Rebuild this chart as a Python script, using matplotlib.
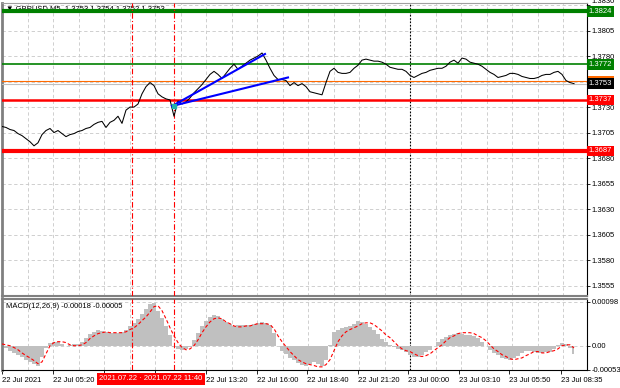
import numpy as np
import matplotlib.pyplot as plt
from matplotlib.patches import Rectangle

plt.rcParams['font.family'] = ['Liberation Sans', 'DejaVu Sans']
plt.rcParams['font.size'] = 5.5

# GBPUSD M5 close (one sample per ~4 px)
close = [
    1.3711, 1.3710, 1.3708, 1.3707, 1.3704, 1.3702, 1.3699, 1.3696, 1.3692, 1.3695,
    1.3703, 1.3707, 1.3709, 1.3705, 1.3707, 1.3704, 1.3701, 1.3703, 1.3704, 1.3706,
    1.3707, 1.3709, 1.3710, 1.3713, 1.3715, 1.3716, 1.3710, 1.3715, 1.3717, 1.3721,
    1.3714, 1.3727, 1.3730, 1.3730, 1.3733, 1.3743, 1.3750, 1.3754, 1.3751, 1.3743,
    1.3740, 1.3738, 1.3737, 1.3721, 1.3736, 1.3733, 1.3735, 1.3739, 1.3744, 1.3748,
    1.3752, 1.3757, 1.3762, 1.3765, 1.3762, 1.3758, 1.3763, 1.3768, 1.3772, 1.3767,
    1.3770, 1.3773, 1.3776, 1.3778, 1.3780, 1.3783, 1.3776, 1.3768, 1.3761, 1.3757,
    1.3757, 1.3756, 1.3751, 1.3754, 1.3751, 1.3753, 1.3750, 1.3745, 1.3744, 1.3743,
    1.3742, 1.3754, 1.3765, 1.3768, 1.3764, 1.3763, 1.3763, 1.3764, 1.3768, 1.3771,
    1.3776, 1.3777, 1.3776, 1.3775, 1.3775, 1.3774, 1.3772, 1.3769, 1.3768, 1.3767,
    1.3767, 1.3765, 1.3761, 1.3759, 1.3761, 1.3763, 1.3764, 1.3766, 1.3767, 1.3768,
    1.3768, 1.3770, 1.3774, 1.3776, 1.3773, 1.3778, 1.3777, 1.3774, 1.3773, 1.3772,
    1.3770, 1.3767, 1.3764, 1.3762, 1.3759, 1.3760, 1.3761, 1.3763, 1.3763, 1.3762,
    1.3760, 1.3759, 1.3758, 1.3758, 1.3759, 1.3761, 1.3762, 1.3762, 1.3764, 1.3765,
    1.3762, 1.3756, 1.3754, 1.3753,
]

# MACD(12,26,9) main (histogram) and signal, in points (1e-5)
macd_hist_pts = [
    0, -4, -11, -16, -20, -24, -31, -36, -40, -44,
    -24, -4, 7, 9, 9, 4, 0, 2, 4, 4,
    9, 18, 27, 31, 36, 33, 31, 29, 29, 29,
    31, 36, 44, 51, 60, 71, 82, 93, 95, 78,
    62, 44, 24, -2, -7, -9, -7, -2, 13, 29,
    44, 56, 64, 69, 67, 60, 53, 49, 44, 47,
    47, 47, 47, 49, 51, 53, 51, 47, 29, 0,
    -11, -18, -27, -31, -38, -42, -44, -40, -36, -40,
    -44, -31, 2, 31, 36, 40, 42, 44, 49, 56,
    53, 49, 42, 36, 27, 16, 9, 2, -2, -7,
    -9, -13, -20, -24, -24, -20, -13, -9, 0, 9,
    16, 20, 24, 27, 29, 27, 24, 24, 22, 18,
    9, 0, -9, -16, -20, -27, -29, -31, -27, -22,
    -16, -11, -11, -13, -16, -16, -13, -13, -7, 2,
    7, 4, -4, -18,
]
macd_signal_pts = [
    4, 2, 0, -4, -9, -16, -22, -27, -33, -40,
    -36, -18, 0, 7, 9, 9, 7, 2, 0, 0,
    2, 7, 16, 22, 27, 29, 31, 29, 29, 29,
    29, 31, 36, 40, 47, 56, 64, 75, 87, 89,
    78, 60, 40, 22, 7, -4, -9, -7, 0, 13,
    29, 42, 53, 60, 62, 60, 53, 49, 44, 42,
    42, 44, 44, 47, 49, 49, 49, 47, 38, 22,
    9, -2, -13, -22, -31, -36, -40, -42, -44, -47,
    -47, -42, -31, -11, 9, 22, 31, 36, 40, 44,
    49, 51, 51, 47, 40, 33, 24, 18, 9, 0,
    -7, -11, -13, -18, -22, -24, -22, -18, -11, -4,
    2, 11, 18, 22, 27, 29, 29, 29, 27, 22,
    18, 11, 2, -7, -13, -20, -24, -29, -31, -29,
    -27, -22, -18, -13, -13, -16, -16, -13, -11, -7,
    0, 2, 2, -5,
]

price_ticks = [1.3830, 1.3805, 1.3780, 1.3755, 1.3730, 1.3705, 1.3680,
               1.3655, 1.3630, 1.3605, 1.3580, 1.3555]
# 1.3755 is covered by the bid box on the original, so its label stays blank
price_tick_labels = ['1.3830', '1.3805', '1.3780', '', '1.3730', '1.3705', '1.3680',
                     '1.3655', '1.3630', '1.3605', '1.3580', '1.3555']
macd_ticks = [0.00098, 0.0, -0.00053]
macd_tick_labels = ['0.00098', '0.00', '-0.00053']

# time axis: two labels sit under the red vertical-line box, so they stay blank
time_pos = [0, 12.75, 25.5, 38.25, 51, 63.75, 76.25, 89, 101.5, 114.25, 126.75, 139.75]
time_labels = ['22 Jul 2021', '22 Jul 05:20', '', '',
               '22 Jul 13:20', '22 Jul 16:00', '22 Jul 18:40', '22 Jul 21:20',
               '23 Jul 00:00', '23 Jul 03:10', '23 Jul 05:50', '23 Jul 08:35']

# horizontal levels: price, line colour, width, label box colour
levels = [
    (1.3824, '#008000', 3.0, '#008000'),
    (1.3772, '#008000', 1.2, '#008000'),
    (1.3753, '#c0c0c0', 0.8, 'black'),
    (1.3737, '#ff0000', 1.8, '#ff0000'),
    (1.3687, '#ff0000', 3.0, '#ff0000'),
]
ask_level = 1.3756

# trend lines drawn on the chart (bar index, price)
trend_lines = [
    ((42.5, 1.3731), (65.75, 1.3782)),
    ((42.5, 1.3731), (71.5, 1.3759)),
]
vlines_red = [32.5, 43.0]
vline_red_label = '2021.07.22 \u00b7 2021.07.22 11:40'
day_break = 102.0

W, H = 620, 388
fig = plt.figure(figsize=(W / 100, H / 100), dpi=100)


def px_axes(x0, y0, x1, y1):
    return fig.add_axes([x0 / W, 1 - y1 / H, (x1 - x0) / W, (y1 - y0) / H])


ax = px_axes(2, 3, 587, 296)
ax2 = px_axes(2, 299, 587, 370)
x = np.arange(len(close))
xmax = 146.25
grid_x = np.arange(6.375, xmax, 6.375)

for a in (ax, ax2):
    a.set_xlim(0, xmax)
    for gx in grid_x:
        a.axvline(gx, color='#c8c8c8', lw=0.6, ls=(0, (4, 3)), zorder=0)
    for vx in vlines_red:
        a.axvline(vx, color='red', lw=0.8, ls=(0, (5, 2, 1, 2)), zorder=4)
    a.axvline(day_break, color='black', lw=0.8, ls=(0, (1.5, 1.5)), zorder=1)
    a.yaxis.tick_right()
    a.tick_params(axis='y', length=2, pad=1.5, labelsize=5.5, width=0.6)
    a.spines['left'].set_color('#808080')
    a.spines['left'].set_linewidth(2)
    a.spines['right'].set_linewidth(0.8)

# ---- price panel ----
ax.set_ylim(1.35448, 1.38320)
ax.set_yticks(price_ticks)
ax.set_yticklabels(price_tick_labels)
ax.get_yticklabels()[0].set_va('bottom')  # top label sits just above the 1.3824 box
ax.set_xticks([])
for p in price_ticks:
    ax.axhline(p, color='#c8c8c8', lw=0.6, ls=(0, (4, 3)), zorder=0)
ax.spines['top'].set_color('#a0a0a0')
ax.spines['bottom'].set_color('#808080')
ax.spines['bottom'].set_linewidth(1.5)

ax.text(0.006, 0.982, '\u25bc GBPUSD,M5  1.3753 1.3754 1.3752 1.3753',
        transform=ax.transAxes, fontsize=5.5, va='center', ha='left', zorder=1,
        family=['Liberation Sans', 'DejaVu Sans'])

# ask line with its label box peeking out above the bid box
ax.axhline(ask_level, color='#ff6a00', lw=0.8, zorder=3)
ax.add_patch(Rectangle((1.002, ask_level - 0.0002), 0.044, 0.0006,
                       transform=ax.get_yaxis_transform(), fc='#ff6a00', ec='none',
                       clip_on=False, zorder=5))

for price, col, lw, box in levels:
    ax.axhline(price, color=col, lw=lw, zorder=3)
    ax.text(1.003, price, f'{price:.4f}', transform=ax.get_yaxis_transform(),
            color='white', fontsize=5.5, ha='left', va='center', clip_on=False,
            zorder=6, bbox=dict(boxstyle='square,pad=0.25', fc=box, ec='none'))

ax.plot(x, close, color='black', lw=0.75, zorder=4)

for (x0, y0), (x1, y1) in trend_lines:
    ax.plot([x0, x1], [y0, y1], color='#0000ff', lw=1.5, zorder=5)
ax.plot([trend_lines[0][0][0] + 0.6], [trend_lines[0][0][1] - 0.00003], 's',
        color='#20b2aa', ms=2.5, zorder=6)

# ---- MACD panel ----
hist = np.array(macd_hist_pts) * 1e-5
signal = np.array(macd_signal_pts) * 1e-5
ax2.set_ylim(-0.00054, 0.00104)
ax2.fill_between(x, 0, hist, step='mid', color='#c0c0c0', lw=0, zorder=2)
ax2.plot(x, signal, color='red', lw=0.8, ls=(0, (3, 2)), zorder=3)
for t in macd_ticks:
    ax2.axhline(t, color='#c8c8c8', lw=0.6, ls=(0, (4, 3)), zorder=0)
ax2.set_yticks(macd_ticks)
ax2.set_yticklabels(macd_tick_labels)
ax2.spines['top'].set_color('#808080')
ax2.spines['top'].set_linewidth(1.5)
ax2.set_xticks(time_pos)
ax2.set_xticklabels(time_labels, ha='left')
ax2.tick_params(axis='x', length=3, pad=2, labelsize=5.5, width=0.6)
ax2.text(0.006, 0.90, 'MACD(12,26,9) -0.00018 -0.00005', transform=ax2.transAxes,
         fontsize=5.5, va='center', ha='left')

ax2.text(sum(vlines_red) / 2 - 0.6, -0.125, vline_red_label,
         transform=ax2.get_xaxis_transform(), color='white', fontsize=5.5,
         ha='center', va='center', clip_on=False, zorder=6,
         bbox=dict(boxstyle='square,pad=0.3', fc='red', ec='none'))

fig.savefig('out.png', dpi=100, facecolor='white')
